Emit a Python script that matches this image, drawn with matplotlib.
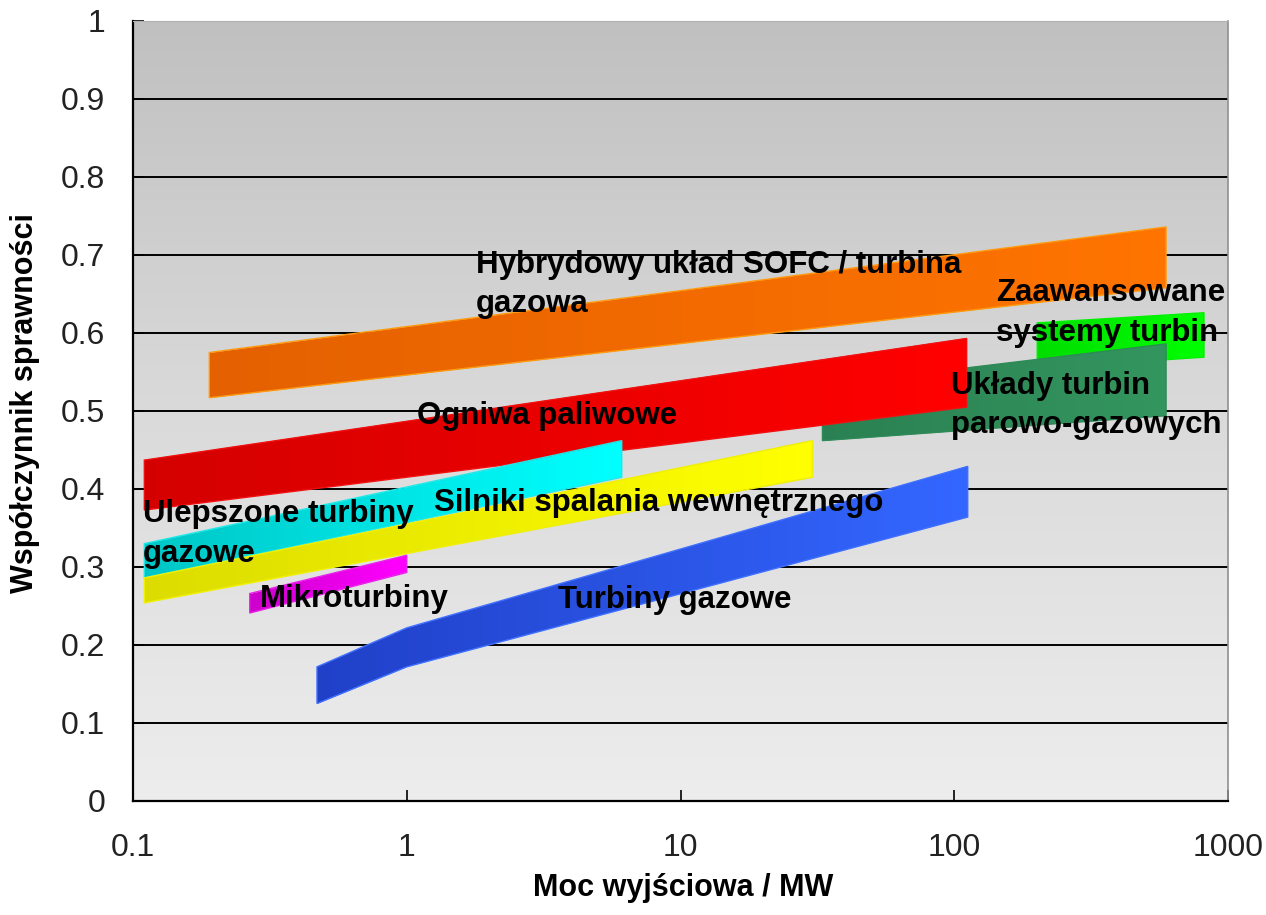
import numpy as np
import matplotlib
matplotlib.use("Agg")
import matplotlib.pyplot as plt
from matplotlib.colors import LinearSegmentedColormap
from matplotlib.patches import Polygon

plt.rcParams['font.family'] = ['Liberation Sans', 'DejaVu Sans']

# ---------------- data ----------------
# each band: x points (MW), lower and upper efficiency
sofc_x = [0.19, 594];  sofc_lo = [0.517, 0.658]; sofc_hi = [0.575, 0.736]
fc_x = [0.11, 111];    fc_lo = [0.373, 0.505];   fc_hi = [0.437, 0.593]
agt_x = [0.11, 6.1];   agt_lo = [0.286, 0.415];  agt_hi = [0.330, 0.462]
ice_x = [0.11, 30.3];  ice_lo = [0.254, 0.415];  ice_hi = [0.286, 0.462]
mt_x = [0.267, 1.0];   mt_lo = [0.241, 0.293];   mt_hi = [0.266, 0.315]
gt_x = [0.47, 1.0, 112]; gt_lo = [0.125, 0.172, 0.364]; gt_hi = [0.172, 0.222, 0.429]
cc_x = [33, 594];      cc_lo = [0.462, 0.494];   cc_hi = [0.533, 0.586]
ats_x = [201, 817];    ats_lo = [0.555, 0.569];  ats_hi = [0.613, 0.626]

xticks = [0.1, 1, 10, 100, 1000]
xticklabels = ['0.1', '1', '10', '100', '1000']
yticks = [0, 0.1, 0.2, 0.3, 0.4, 0.5, 0.6, 0.7, 0.8, 0.9, 1.0]
yticklabels = ['0', '0.1', '0.2', '0.3', '0.4', '0.5', '0.6', '0.7', '0.8', '0.9', '1']

labels = [
    ("Hybrydowy układ SOFC / turbina\ngazowa", 1.786, 0.662),
    ("Zaawansowane\nsystemy turbin", 142, 0.626),
    ("Układy turbin\nparowo-gazowych", 97.5, 0.507),
    ("Ogniwa paliwowe", 1.088, 0.494),
    ("Ulepszone turbiny\ngazowe", 0.1088, 0.342),
    ("Silniki spalania wewnętrznego", 1.254, 0.3816),
    ("Mikroturbiny", 0.2907, 0.2586),
    ("Turbiny gazowe", 3.556, 0.2574),
]

# ---------------- figure ----------------
fig = plt.figure(figsize=(12.66, 9.15), dpi=100)
pos = [133/1266, (915-801)/915, (1228-133)/1266, (801-21)/915]

bg = fig.add_axes(pos, zorder=0)
grad = np.linspace(0, 1, 256)[:, None]
bg_cmap = LinearSegmentedColormap.from_list('bg', ['#EDEDED', '#DADADA', '#C0C0C0'])
bg.imshow(grad, aspect='auto', cmap=bg_cmap, origin='lower', extent=[0, 1, 0, 1])
bg.axis('off')

ax = fig.add_axes(pos, zorder=1)
ax.patch.set_alpha(0)
ax.set_xscale('log')
ax.set_xlim(0.1, 1000)
ax.set_ylim(0, 1)
ax.set_axisbelow(True)
ax.yaxis.grid(True, color='black', lw=1.4)
ax.xaxis.grid(False)


def band(x, lo, hi, c_left, c_right, edge, z):
    x = np.asarray(x, float)
    lo = np.asarray(lo, float)
    hi = np.asarray(hi, float)
    verts = np.column_stack([np.concatenate([x, x[::-1]]),
                             np.concatenate([hi, lo[::-1]])])
    poly = Polygon(verts, closed=True, facecolor='none', edgecolor=edge,
                   lw=1.0, transform=ax.transData, zorder=z + 0.1)
    ax.add_patch(poly)
    X = np.geomspace(x[0], x[-1], 80)
    Y = np.array([lo.min(), hi.max()])
    C = np.linspace(0, 1, 79)[None, :]
    cmap = LinearSegmentedColormap.from_list('b', [c_left, c_right])
    mesh = ax.pcolormesh(X, Y, C, cmap=cmap, shading='flat', zorder=z,
                         antialiased=False)
    mesh.set_clip_path(poly)


band(ats_x, ats_lo, ats_hi, '#00DD00', '#00FF00', '#00F000', 1.0)
band(cc_x, cc_lo, cc_hi, '#2A8052', '#33955E', '#2E8A57', 1.2)
band(fc_x, fc_lo, fc_hi, '#D40000', '#FF0000', '#F01010', 1.4)
band(agt_x, agt_lo, agt_hi, '#00C6C6', '#00FFFF', '#20E8E8', 1.6)
band(ice_x, ice_lo, ice_hi, '#DCDC00', '#FFFF00', '#F0F000', 1.8)
band(mt_x, mt_lo, mt_hi, '#CC00CC', '#FF00FF', '#E820E8', 2.0)
band(sofc_x, sofc_lo, sofc_hi, '#E46000', '#FF7400', '#FF9A10', 2.2)
band(gt_x, gt_lo, gt_hi, '#2040C8', '#3366FF', '#4070FF', 2.4)

for txt, xx, yy in labels:
    ax.text(xx, yy, txt, ha='left', va='center', fontsize=22.5,
            fontweight='bold', color='black', zorder=5, linespacing=1.42)

ax.set_xticks(xticks)
ax.set_xticklabels(xticklabels)
ax.xaxis.set_minor_locator(matplotlib.ticker.NullLocator())
ax.set_yticks(yticks)
ax.set_yticklabels(yticklabels)
ax.tick_params(axis='both', which='major', direction='in', length=8, width=1.2,
               labelsize=23, labelcolor='#222222', color='black')
ax.tick_params(axis='x', pad=23)
ax.tick_params(axis='y', pad=20)

for s in ['left', 'bottom']:
    ax.spines[s].set_color('black')
    ax.spines[s].set_linewidth(1.6)
ax.spines['right'].set_color('#909090')
ax.spines['right'].set_linewidth(1.2)
ax.spines['top'].set_color('#B0B0B0')
ax.spines['top'].set_linewidth(0.8)

ax.set_xlabel('Moc wyjściowa / MW', fontsize=22, fontweight='bold')
ax.xaxis.set_label_coords(0.502, -0.1115)
ax.xaxis.label.set_va('center')
ax.set_ylabel('Współczynnik sprawności', fontsize=22, fontweight='bold')
ax.yaxis.set_label_coords(-0.0986, 0.51)
ax.yaxis.label.set_va('center')

fig.savefig('out.png', dpi=100)
